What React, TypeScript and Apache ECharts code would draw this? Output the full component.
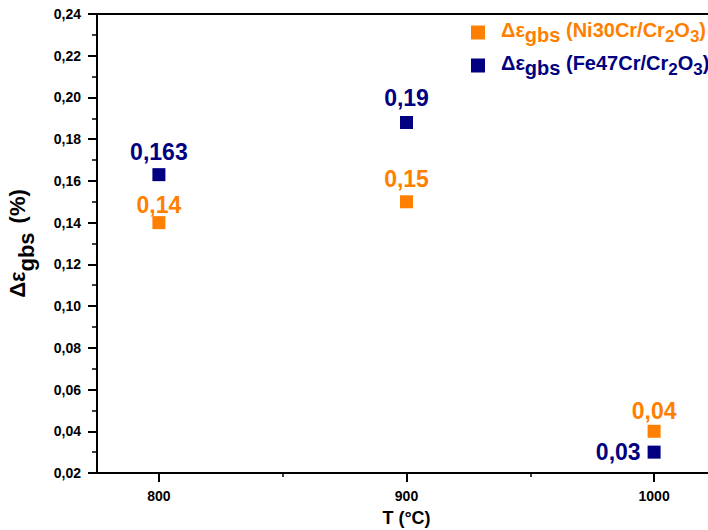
import React, { useEffect, useRef } from "react";
import * as echarts from "echarts";

const temperatures = [800, 900, 1000];
const niValues = [0.14, 0.15, 0.04];
const feValues = [0.163, 0.188, 0.03];
const niLabels = ["0,14", "0,15", "0,04"];
const feLabels = ["0,163", "0,19", "0,03"];
const xTicks = [800, 900, 1000];
const xMinorTicks = [850, 950];
const seriesNames = ["Ni30Cr", "Fe47Cr"];

const ORANGE = "#FF8000";
const NAVY = "#000080";
const FONT = "Liberation Sans, Arial, sans-serif";

const niLabelDist = [0, 5, 2];
const feLabelDist = [5, 6, 7];
const feLabelPos = ["top", "top", "left"];

function buildData(xs: number[], ys: number[], labels: string[], dists: number[], pos?: string[]) {
  return xs.map((x, i) => ({
    value: [x, ys[i]],
    label: {
      formatter: labels[i],
      distance: dists[i],
      position: pos ? pos[i] : "top",
    },
  }));
}

const legendFmt = (name: string) =>
  `{pad|}{a|Δε}{sub|gbs}{a| (${name}/Cr}{sub2|2}{a|O}{sub2|3}{a|)}`;

export default function App() {
  const ref = useRef<HTMLDivElement>(null);
  useEffect(() => {
    if (!ref.current) return;
    const chart = echarts.init(ref.current, undefined, { renderer: "svg" });
    const axisLine = { show: true, lineStyle: { color: "#000", width: 2 } };
    const richLegend = (color: string) => ({
      pad: { width: 11, lineHeight: 20 },
      a: { fontSize: 20, fontWeight: "bold", fontFamily: FONT, color, lineHeight: 20, verticalAlign: "top" },
      sub: { fontSize: 20, fontWeight: "bold", fontFamily: FONT, color, lineHeight: 25, verticalAlign: "bottom" },
      sub2: { fontSize: 17, fontWeight: "bold", fontFamily: FONT, color, lineHeight: 25, verticalAlign: "bottom" },
    });
    chart.setOption({
      animation: false,
      backgroundColor: "#fff",
      grid: { left: 97, right: 8, top: 14, bottom: 57, containLabel: false, outerBoundsMode: "none" },
      legend: {
        orient: "vertical",
        left: 471,
        top: 20,
        padding: 0,
        itemWidth: 14,
        itemHeight: 14,
        itemGap: 8,
        icon: "rect",
        formatter: legendFmt,
        textStyle: { rich: richLegend(ORANGE) },
        data: [
          { name: seriesNames[0], textStyle: { rich: richLegend(ORANGE) } },
          { name: seriesNames[1], textStyle: { rich: richLegend(NAVY) } },
        ],
      },
      xAxis: [
        {
          type: "value",
          position: "bottom",
          min: 775,
          max: 1025,
          name: "T (°C)",
          nameLocation: "middle",
          nameGap: 36,
          nameTextStyle: { fontSize: 18, fontWeight: "bold", fontFamily: FONT, color: "#000" },
          axisLine,
          splitLine: { show: false },
          axisTick: { show: true, customValues: xTicks, length: 9, lineStyle: { color: "#000", width: 2 } },
          axisLabel: {
            customValues: xTicks,
            fontSize: 14,
            fontWeight: "bold",
            fontFamily: FONT,
            color: "#000",
            margin: 16,
            formatter: (v: number) => String(v),
          },
        },
        {
          type: "value",
          position: "bottom",
          min: 775,
          max: 1025,
          axisLine: { show: false },
          splitLine: { show: false },
          axisTick: { show: true, customValues: xMinorTicks, length: 4, lineStyle: { color: "#000", width: 1.5 } },
          axisLabel: { show: false, customValues: xMinorTicks },
        },
        {
          type: "value",
          position: "top",
          min: 775,
          max: 1025,
          axisLine,
          splitLine: { show: false },
          axisTick: { show: false },
          axisLabel: { show: false },
        },
      ],
      yAxis: {
        type: "value",
        min: 0.02,
        max: 0.24,
        interval: 0.02,
        name: "{a|Δε}{sub|gbs}{sp|}{a|(%)}",
        nameLocation: "middle",
        nameGap: 60,
        nameRotate: 90,
        nameTextStyle: {
          rich: {
            a: { fontSize: 22, fontWeight: "bold", fontFamily: FONT, color: "#000", lineHeight: 22, verticalAlign: "top" },
            sub: { fontSize: 22, fontWeight: "bold", fontFamily: FONT, color: "#000", lineHeight: 31, verticalAlign: "bottom" },
            sp: { width: 9, lineHeight: 22 },
          },
        },
        axisLine,
        splitLine: { show: false },
        axisTick: { show: true, length: 9, lineStyle: { color: "#000", width: 2 } },
        minorTick: { show: true, splitNumber: 2, length: 5, lineStyle: { color: "#000", width: 1.5 } },
        axisLabel: {
          fontSize: 14,
          fontWeight: "bold",
          fontFamily: FONT,
          color: "#000",
          margin: 16,
          formatter: (v: number) => v.toFixed(2).replace(".", ","),
        },
      },
      series: [
        {
          name: seriesNames[0],
          type: "scatter",
          symbol: "rect",
          symbolSize: 13,
          itemStyle: { color: ORANGE, opacity: 1 },
          label: { show: true, color: ORANGE, fontSize: 23, fontWeight: "bold", fontFamily: FONT },
          data: buildData(temperatures, niValues, niLabels, niLabelDist),
          z: 2,
        },
        {
          name: seriesNames[1],
          type: "scatter",
          symbol: "rect",
          symbolSize: 13,
          itemStyle: { color: NAVY, opacity: 1 },
          label: { show: true, color: NAVY, fontSize: 23, fontWeight: "bold", fontFamily: FONT },
          data: buildData(temperatures, feValues, feLabels, feLabelDist, feLabelPos),
          z: 3,
        },
      ],
    });
    return () => chart.dispose();
  }, []);
  return (
    <div style={{ position: "fixed", left: 0, top: 0, width: 708, height: 530, overflow: "hidden", background: "#fff" }}>
      <div ref={ref} style={{ width: 724, height: 530 }} />
    </div>
  );
}
